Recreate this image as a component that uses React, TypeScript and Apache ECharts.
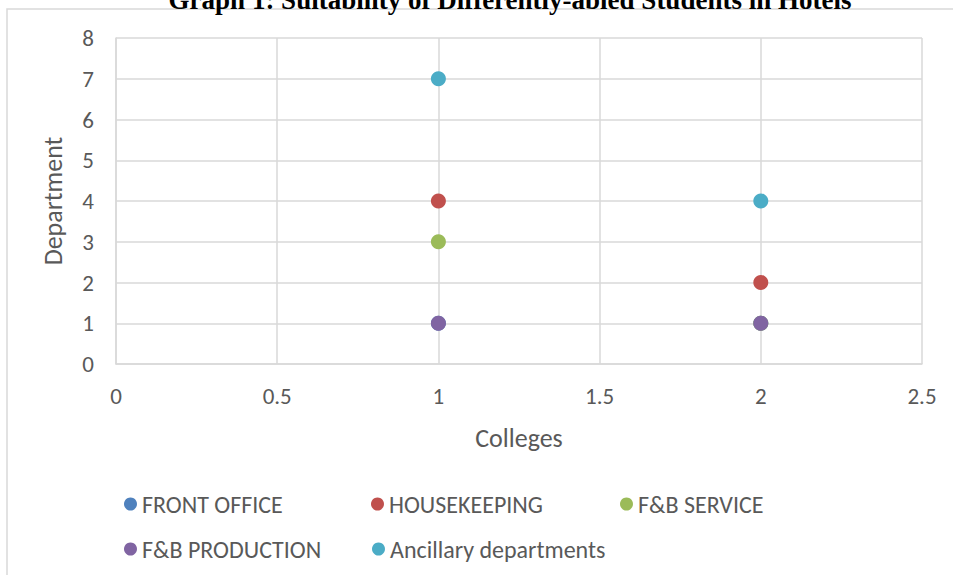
import React, { useEffect, useRef } from "react";
import * as echarts from "echarts";

const titleText = "Graph 1: Suitability of Differently-abled Students in Hotels";
const seriesNames = ["FRONT OFFICE", "HOUSEKEEPING", "F&B SERVICE", "F&B PRODUCTION", "Ancillary departments"];
const seriesColors = ["#4F81BD", "#C0504D", "#9BBB59", "#8064A2", "#4BACC6"];
const frontOffice = [[1, 1], [2, 1]];
const housekeeping = [[1, 4], [2, 2]];
const fbService = [[1, 3], [2, 1]];
const fbProduction = [[1, 1], [2, 1]];
const ancillary = [[1, 7], [2, 4]];
const seriesData = [frontOffice, housekeeping, fbService, fbProduction, ancillary];
const legendPos = [
  [124, 492],
  [371, 492],
  [620, 492],
  [124, 537],
  [372, 537],
];

const FONT = "Carlito, Calibri, 'Liberation Sans', sans-serif";
const TXT = "#595959";
const GRID = "#d9d9d9";

export default function App() {
  const ref = useRef<HTMLDivElement>(null);
  useEffect(() => {
    const chart = echarts.init(ref.current!, null, { renderer: "svg" });
    chart.setOption({
      animation: false,
      backgroundColor: "#ffffff",
      textStyle: { fontFamily: FONT },
      grid: { left: 116, right: 31, top: 38, bottom: 211 },
      graphic: [
        {
          type: "rect",
          shape: { x: 7, y: 9, width: 1000, height: 700 },
          style: { fill: "none", stroke: GRID, lineWidth: 1.5 },
          silent: true,
          z: -10,
        },
        {
          type: "text",
          x: 510,
          y: 0,
          style: {
            text: titleText,
            font: "bold 27px 'Liberation Serif', 'Times New Roman', serif",
            fill: "#000000",
            textAlign: "center",
            textVerticalAlign: "middle",
          },
        },
      ],
      legend: seriesNames.map((n, i) => ({
        data: [n],
        left: legendPos[i][0],
        top: legendPos[i][1],
        orient: "horizontal",
        icon: "circle",
        itemWidth: 13,
        itemHeight: 13,
        padding: 0,
        textStyle: { color: TXT, fontSize: 24, fontFamily: FONT },
      })),
      xAxis: {
        type: "value",
        min: 0,
        max: 2.5,
        interval: 0.5,
        name: "Colleges",
        nameLocation: "middle",
        nameGap: 61,
        nameTextStyle: { color: TXT, fontSize: 26, fontFamily: FONT },
        axisLine: { show: true, lineStyle: { color: GRID, width: 1.5 } },
        axisTick: { show: false },
        axisLabel: { color: TXT, fontSize: 23, margin: 20, fontFamily: FONT },
        splitLine: { show: true, lineStyle: { color: GRID, width: 1.5 } },
      },
      yAxis: {
        type: "value",
        min: 0,
        max: 8,
        interval: 1,
        name: "Department",
        nameLocation: "middle",
        nameGap: 50,
        nameTextStyle: { color: TXT, fontSize: 26, fontFamily: FONT },
        axisLine: { show: true, lineStyle: { color: GRID, width: 1.5 } },
        axisTick: { show: false },
        axisLabel: { color: TXT, fontSize: 23, margin: 22, fontFamily: FONT },
        splitLine: { show: true, lineStyle: { color: GRID, width: 1.5 } },
      },
      series: seriesNames.map((n, i) => ({
        name: n,
        type: "scatter",
        data: seriesData[i],
        symbol: "circle",
        symbolSize: 15,
        itemStyle: { color: seriesColors[i], opacity: 1 },
      })),
    });
    return () => chart.dispose();
  }, []);
  return (
    <div
      ref={ref}
      style={{ position: "fixed", left: 0, top: 0, width: 953, height: 575 }}
    />
  );
}
